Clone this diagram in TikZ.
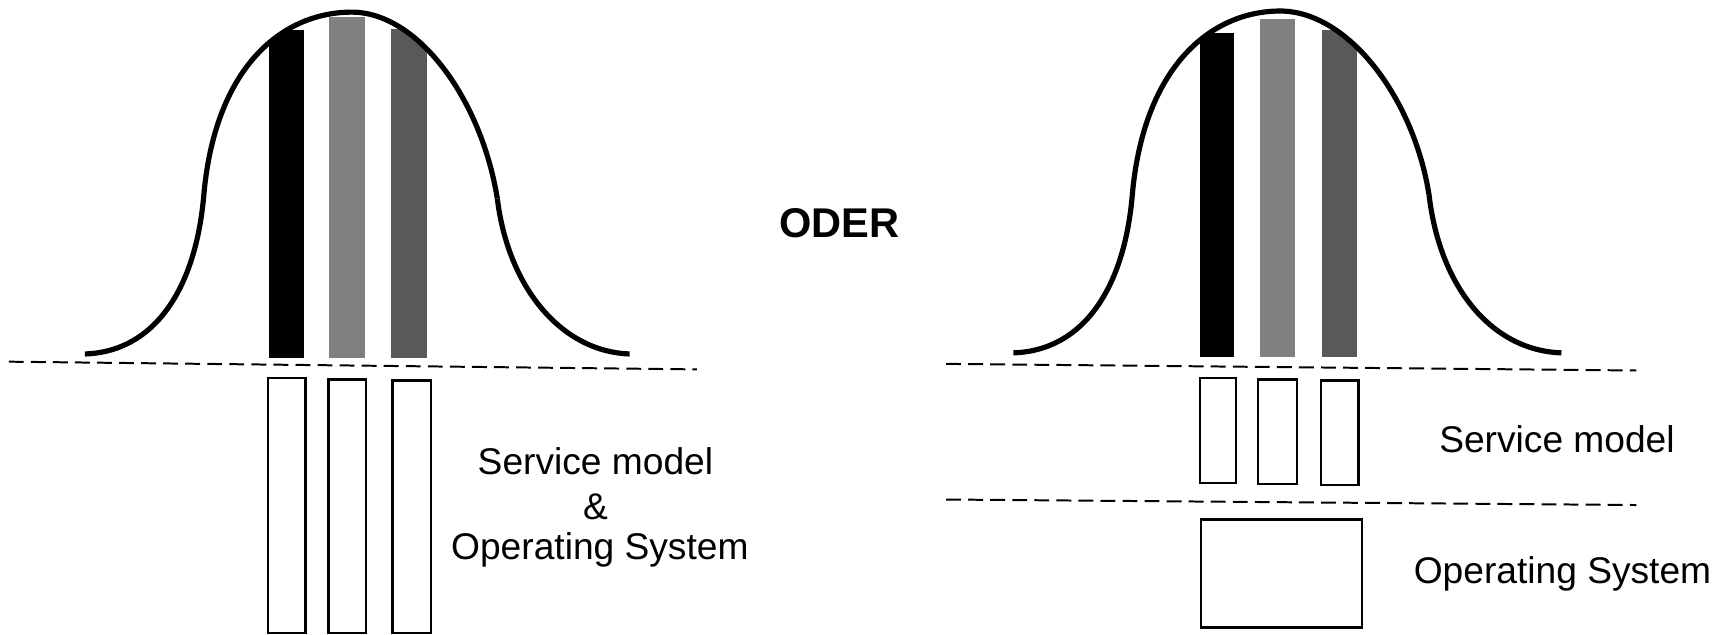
\documentclass[tikz,border=0pt]{standalone}
\usepackage{fontspec}
\setmainfont{Liberation Sans}
\definecolor{midgray}{RGB}{128,128,128}
\definecolor{darkgray2}{RGB}{89,89,89}
\begin{document}
\begin{tikzpicture}[x=1pt,y=-1pt,
  curve/.style={line width=4.7pt},
  sep/.style={line width=1.8pt,dash pattern=on 13.5pt off 6.5pt},
  box/.style={line width=2.2pt,fill=white},
  lbl/.style={font=\fontsize{33.7}{40.5}\selectfont,align=center,inner sep=0pt},
  oder/.style={font=\fontsize{37.7}{44}\selectfont\bfseries,inner sep=0pt}]
\useasboundingbox (0,0) rectangle (1568,575);
% ---------- left figure ----------
\begin{scope}
\clip (185,175) .. controls (196,58) and (258,11) .. (319,11)
                .. controls (378,11) and (436,88) .. (451,180) -- (451,330) -- (185,330) -- cycle;
\fill[black] (244,27) rectangle (276,325);
\fill[midgray] (298,15) rectangle (331,325);
\fill[darkgray2] (355,26) rectangle (387,325);
\end{scope}
\draw[curve] (77,321) .. controls (140,319) and (178,262) .. (185,175);
\draw[curve] (185,175) .. controls (196,58) and (258,11) .. (319,11)
                       .. controls (378,11) and (436,88) .. (451,180);
\draw[curve] (451,180) .. controls (461,262) and (510,319) .. (571,321);
\draw[sep] (8,328) -- (632,335);
\draw[box] (243,343) rectangle (277,574);
\draw[box] (298,344) rectangle (332,574);
\draw[box] (356,345) rectangle (391,574);
\node[lbl] (lsm) at (540,418) {Service model};
\node[lbl] (lamp) at (540,460) {\&};
\node[lbl] (los) at (544,499) {Operating System};
% ---------- middle ----------
\node[oder] (oder) at (761,202) {ODER};
% ---------- right figure ----------
\begin{scope}[xshift=842pt]
\begin{scope}
\clip (185,175) .. controls (196,58) and (258,10) .. (319,10)
                .. controls (380,10) and (440,88) .. (454,177) -- (454,330) -- (185,330) -- cycle;
\fill[black] (246,30) rectangle (277,324);
\fill[midgray] (301,17) rectangle (332,324);
\fill[darkgray2] (357,27) rectangle (389,324);
\end{scope}
\draw[curve] (77,320) .. controls (140,318) and (178,262) .. (185,175);
\draw[curve] (185,175) .. controls (196,58) and (258,10) .. (319,10)
                       .. controls (380,10) and (440,88) .. (454,177);
\draw[curve] (454,177) .. controls (464,262) and (512,318) .. (574,320);
\end{scope}
\draw[sep] (858,330) -- (1484,336);
\draw[sep] (858,453) -- (1484,458);
\draw[box] (1088,343) rectangle (1121,438);
\draw[box] (1141,344) rectangle (1176,439);
\draw[box] (1198,345) rectangle (1232,440);
\draw[box] (1089,471) rectangle (1235,569);
\node[lbl] (rsm) at (1412,398) {Service model};
\node[lbl] (ros) at (1417,520) {Operating System};
\end{tikzpicture}
\end{document}
